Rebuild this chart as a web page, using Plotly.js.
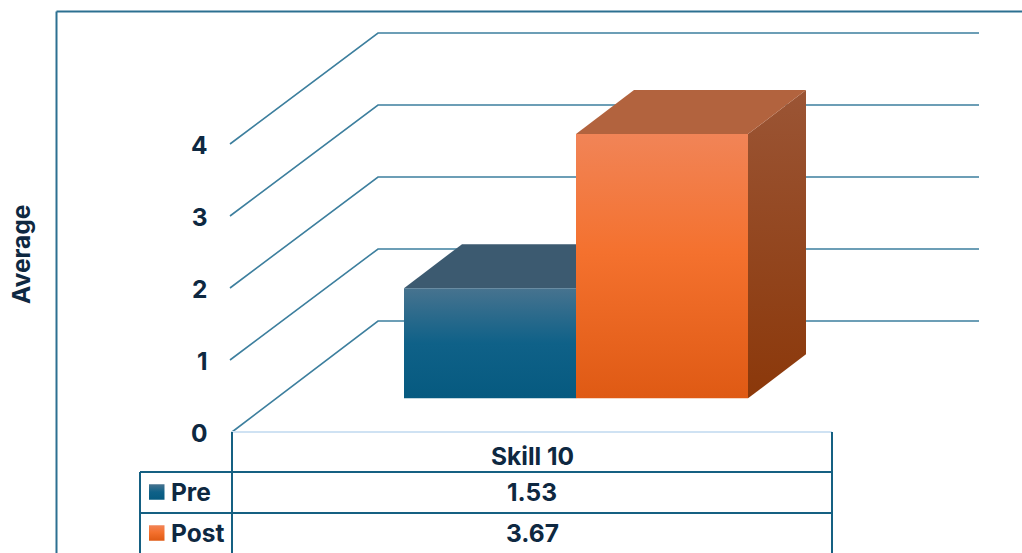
<!DOCTYPE html>
<html>
<head>
<meta charset="utf-8">
<script src="https://cdn.plot.ly/plotly-3.0.1.min.js"></script>
<style>html,body{margin:0;padding:0;background:#fff;overflow:hidden}#chart{width:1022px;height:553px}</style>
</head>
<body>
<div id="chart"></div>
<script>
// Data
const category = 'Skill 10';
const seriesNames = ['Pre', 'Post'];
const seriesValues = [1.53, 3.67];
const tickValues = [0, 1, 2, 3, 4];
const axisTitle = 'Average';

// Colours per series: front gradient (bottom -> top), side gradient, top face
const frontStops = [
  [[0, '#065a80'], [0.5, '#0f6188'], [1, '#47738f']],
  [[0, '#df5a14'], [0.55, '#f4712e'], [1, '#f18457']]
];
const sideStops = [
  [[0, '#0a4a68'], [1, '#3c5a70']],
  [[0, '#8b380a'], [1, '#9b5535']]
];
const topColours = ['#3c5a70', '#b2633e'];
const gridColour = '#3d7f9e';
const tableColour = '#156082';
const textColour = '#0e2841';

// Oblique projection in page units
const unit = 72, zeroPx = 432;
const toY = p => (zeroPx - p) / unit;
const wallDx = 146, wallDy = 111 / unit;
const barStart = 404, barWidth = 172, barDx = 58, barDy = 44 / unit;
const barBase = toY(398.3);
const floorLeft = 232, floorRight = 832, gridRight = 979;

const traces = [];
const poly = (x, y, extra) => traces.push(Object.assign({
  type: 'scatter', mode: 'lines', x, y, fill: 'toself', line: {width: 0}, hoverinfo: 'skip', showlegend: false
}, extra));

// Walls' gridlines
tickValues.forEach(v => traces.push({
  type: 'scatter', mode: 'lines', showlegend: false, hoverinfo: 'skip',
  x: [v === 0 ? floorLeft : floorLeft - 2, floorLeft + wallDx, gridRight],
  y: [v, v + wallDy, v + wallDy],
  line: {color: gridColour, width: 1.6}
}));

// Bars
seriesValues.forEach((v, i) => {
  const x0 = barStart + i * barWidth, x1 = x0 + barWidth, b = barBase, t = barBase + v;
  poly([x1, x1 + barDx, x1 + barDx, x1, x1], [b, b + barDy, t + barDy, t, b], {
    fillgradient: {type: 'vertical', colorscale: sideStops[i], start: b, stop: t + barDy}
  });
  poly([x0, x1, x1 + barDx, x0 + barDx, x0], [t, t, t + barDy, t + barDy, t], {fillcolor: topColours[i]});
  poly([x0, x1, x1, x0, x0], [b, b, t, t, b], {
    fillgradient: {type: 'vertical', colorscale: frontStops[i], start: b, stop: t}
  });
});

// Table rows
const rowLines = [472, 513], rowCentres = [492, 533], headCentre = 456;
const keyLeft = 149, keySize = 15.5, labelLeft = 169, tableLeft = 140;
const tableMid = (floorLeft + floorRight) / 2;
seriesNames.forEach((n, i) => {
  const c = rowCentres[i], x = [keyLeft, keyLeft + keySize, keyLeft + keySize, keyLeft, keyLeft];
  const lo = toY(c + keySize / 2), hi = toY(c - keySize / 2);
  poly(x, [lo, lo, hi, hi, lo], {fillgradient: {type: 'vertical', colorscale: frontStops[i], start: lo, stop: hi}});
});

const font = {family: 'Inter, sans-serif', size: 24.5, color: textColour, weight: 700};
const note = (text, x, p, anchor, extra) => Object.assign({
  text, x, y: toY(p), xref: 'x', yref: 'y', showarrow: false, xanchor: anchor, yanchor: 'middle', font
}, extra);
const annotations = [
  note(category, tableMid, headCentre, 'center'),
  note(axisTitle, 21, 255, 'center', {textangle: -90})
];
seriesNames.forEach((n, i) => {
  annotations.push(note(n, labelLeft, rowCentres[i], 'left'));
  annotations.push(note(seriesValues[i].toFixed(2), tableMid, rowCentres[i], 'center'));
});

const seg = (x0, p0, x1, p1, color, width) => ({
  type: 'line', xref: 'x', yref: 'y', x0, x1, y0: toY(p0), y1: toY(p1), line: {color, width}
});
const bottom = 553;
const shapes = [
  seg(56.5, bottom, 56.5, 11.5, '#2c7091', 2),
  seg(56.5, 11.5, 1022, 11.5, '#2c7091', 2),
  seg(floorLeft, 432, floorRight, 432, '#cfe2f3', 2),
  seg(floorLeft, 432, floorLeft, bottom, tableColour, 2),
  seg(floorRight, 432, floorRight, bottom, tableColour, 2),
  seg(tableLeft, rowLines[0], tableLeft, bottom, tableColour, 2),
  seg(tableLeft, rowLines[0], floorRight, rowLines[0], tableColour, 2),
  seg(tableLeft, rowLines[1], floorRight, rowLines[1], tableColour, 2)
];

const layout = {
  width: 1022, height: 553, autosize: false,
  margin: {l: 0, r: 0, t: 0, b: 0},
  paper_bgcolor: '#fff', plot_bgcolor: '#fff',
  showlegend: false, hovermode: false,
  xaxis: {range: [0, 1022], visible: false, fixedrange: true},
  yaxis: {
    range: [toY(553), toY(0)], anchor: 'free', position: 0.203,
    tickmode: 'array', tickvals: tickValues, ticktext: tickValues.map(String),
    showgrid: false, zeroline: false, showline: false, ticks: '', fixedrange: true,
    ticklabelshift: 1,
    tickfont: {family: font.family, size: 24.5, color: textColour, weight: 700}
  },
  shapes, annotations
};
Plotly.newPlot('chart', traces, layout, {displayModeBar: false, staticPlot: true});
</script>
</body>
</html>
